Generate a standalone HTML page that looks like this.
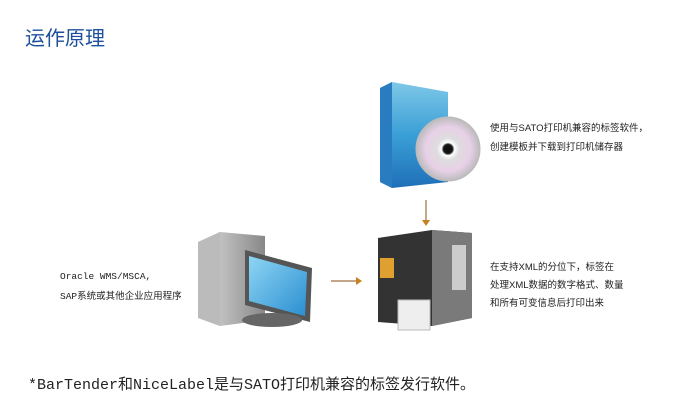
<!DOCTYPE html>
<html><head><meta charset="utf-8"><style>
body{margin:0;width:700px;height:413px;background:#fff;position:relative;overflow:hidden;font-family:"Liberation Sans","Noto Sans CJK SC",sans-serif;}
.t{position:absolute;white-space:nowrap;color:#222;}
</style></head><body>
<div class="t" style="left:25px;top:22px;font-size:20px;color:#1c4f9c;">运作原理</div>

<svg width="700" height="413" style="position:absolute;left:0;top:0">
<defs>
<linearGradient id="box" x1="0" y1="0" x2="0" y2="1"><stop offset="0" stop-color="#7fc8e8"/><stop offset="0.5" stop-color="#3a9fd6"/><stop offset="1" stop-color="#1f6fb8"/></linearGradient>
<radialGradient id="cd"><stop offset="0.15" stop-color="#222"/><stop offset="0.2" stop-color="#fff"/><stop offset="0.35" stop-color="#ddd"/><stop offset="0.7" stop-color="#e8d0e8"/><stop offset="1" stop-color="#bbb"/></radialGradient>
<linearGradient id="scr" x1="0" y1="0" x2="1" y2="1"><stop offset="0" stop-color="#8fd6f5"/><stop offset="1" stop-color="#2a8ed0"/></linearGradient>
<linearGradient id="tw" x1="0" y1="0" x2="1" y2="0"><stop offset="0" stop-color="#ddd"/><stop offset="1" stop-color="#888"/></linearGradient>
</defs>
<polygon points="380,88 392,82 448,92 448,182 392,188 380,182" fill="url(#box)"/>
<polygon points="380,88 392,82 392,188 380,182" fill="#2a7cc0"/>
<circle cx="448" cy="149" r="32" fill="url(#cd)" stroke="#bbb"/>
<circle cx="448" cy="149" r="4" fill="#111"/>
<line x1="426" y1="200" x2="426" y2="222" stroke="#b08a60" stroke-width="1.5"/>
<polygon points="422,220 430,220 426,226" fill="#c8801e"/>
<polygon points="378,238 432,230 472,233 472,318 432,326 378,322" fill="#333"/>
<polygon points="432,230 472,233 472,318 432,326" fill="#7a7a7a"/>
<rect x="452" y="245" width="14" height="45" fill="#ccc"/>
<rect x="380" y="258" width="14" height="20" fill="#e0a030"/>
<rect x="398" y="300" width="32" height="30" fill="#eee" stroke="#bbb"/>
<line x1="331" y1="281" x2="357" y2="281" stroke="#b08a60" stroke-width="1.5"/>
<polygon points="356,277 356,285 362,281" fill="#c8801e"/>
<polygon points="198,242 220,232 265,236 265,320 220,326 198,318" fill="url(#tw)"/>
<polygon points="198,242 220,232 220,326 198,318" fill="#bbb"/>
<polygon points="245,250 312,268 310,322 245,305" fill="#555"/>
<polygon points="249,256 307,272 305,316 249,301" fill="url(#scr)"/>
<ellipse cx="272" cy="320" rx="30" ry="7" fill="#666"/>
</svg>

<div class="t" style="left:490px;top:119px;font-size:9.5px;line-height:19px;">使用与SATO打印机兼容的标签软件，<br>创建模板并下载到打印机储存器</div>
<div class="t" style="left:490px;top:259px;font-size:9.5px;line-height:18px;">在支持XML的分位下，标签在<br>处理XML数据的数字格式、数量<br>和所有可变信息后打印出来</div>
<div class="t" style="left:60px;top:267px;font-size:9.5px;line-height:20px;font-family:'Liberation Mono','Noto Sans CJK SC',monospace;">Oracle WMS/MSCA,<br>SAP系统或其他企业应用程序</div>
<div class="t" style="left:28px;top:373px;font-size:15px;font-family:'Liberation Mono','Noto Sans CJK SC',monospace;">*BarTender和NiceLabel是与SATO打印机兼容的标签发行软件。</div>
</body></html>
